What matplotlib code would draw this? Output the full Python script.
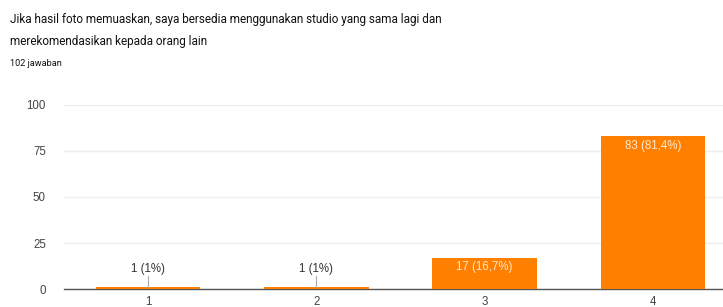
import matplotlib
matplotlib.use("Agg")
import matplotlib.pyplot as plt

categories = ["1", "2", "3", "4"]
values = [1, 1, 17, 83]
labels = ["1 (1%)", "1 (1%)", "17 (16,7%)", "83 (81,4%)"]
yticks = [0, 25, 50, 75, 100]

plt.rcParams['font.family'] = ['Liberation Sans', 'DejaVu Sans']

fig = plt.figure(figsize=(7.23, 3.07), dpi=100)
ax = fig.add_axes([64/723, 1-289/307, (737-64)/723, (289-105)/307])

x = list(range(1, len(categories)+1))
ax.bar(x, values, width=0.62, color='#ff8000', zorder=3)

for xi, v, lab in zip(x, values, labels):
    if v < 10:
        ax.plot([xi, xi], [v, 7], color='#aaaaaa', lw=0.8, zorder=4)
        ax.text(xi, 11, lab, ha='center', va='center', fontsize=8.3, color='#333333', zorder=5)
    else:
        ax.annotate(lab, (xi, v), xytext=(0, -7), textcoords='offset points',
                    ha='center', va='center', fontsize=8.3, color='#ffe8cc', zorder=5)

ax.set_xlim(0.5, 4.5)
ax.set_ylim(0, 100)
ax.set_yticks(yticks)
ax.set_xticks(x)
ax.set_xticklabels(categories)
ax.grid(axis='y', color='#eeeeee', lw=1, zorder=0)
for s in ['top', 'right', 'left']:
    ax.spines[s].set_visible(False)
ax.spines['bottom'].set_color('#555555')
ax.spines['bottom'].set_linewidth(1)
ax.tick_params(axis='both', length=0, labelsize=8.3, labelcolor='#444444')
ax.tick_params(axis='y', pad=13)
ax.tick_params(axis='x', pad=5)

title_font = ['Roboto', 'DejaVu Sans']
fig.text(10/723, 1-20/307, "Jika hasil foto memuaskan, saya bersedia menggunakan studio yang sama lagi dan",
         fontsize=8.5, color='#111111', va='center', ha='left', family=title_font)
fig.text(10/723, 1-42/307, "merekomendasikan kepada orang lain",
         fontsize=8.5, color='#111111', va='center', ha='left', family=title_font)
fig.text(10/723, 1-64/307, "102 jawaban", fontsize=6.6, color='#111111', va='center', ha='left',
         family=title_font)

fig.savefig("out.png", dpi=100)
